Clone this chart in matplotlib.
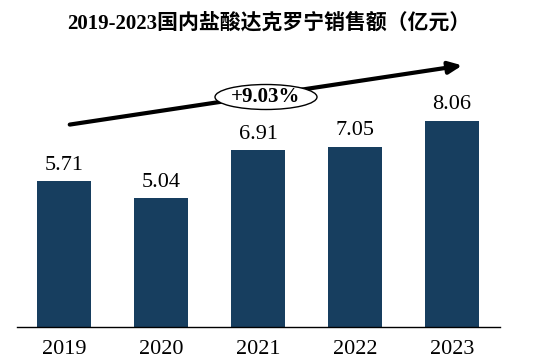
import matplotlib
matplotlib.use("Agg")
import matplotlib.pyplot as plt
from matplotlib.patches import Ellipse, FancyArrowPatch

years = ["2019", "2020", "2021", "2022", "2023"]
sales = [5.71, 5.04, 6.91, 7.05, 8.06]
cagr_label = "+9.03%"
title = "2019-2023国内盐酸达克罗宁销售额（亿元）"

W, H = 538, 361
fig = plt.figure(figsize=(W / 100, H / 100), dpi=100)
ax = fig.add_axes([17 / W, 1 - 327 / H, (500 - 17) / W, (327 - 20) / H])

serif = ["Liberation Serif", "Noto Sans CJK SC"]
color = "#173E5F"
x = range(len(years))
bars = ax.bar(x, sales, width=0.555, color=color)
for xi, v in zip(x, sales):
    ax.text(xi, v + 0.25, f"{v:.2f}", ha="center", va="bottom",
            fontsize=16, family=serif)

ax.set_xlim(-0.485, 4.495)
ax.set_ylim(0, 12)
ax.set_xticks(list(x))
ax.set_xticklabels(years, fontsize=16, family=serif)
ax.tick_params(axis="x", length=0, pad=9)
ax.set_yticks([])
for s in ["top", "left", "right"]:
    ax.spines[s].set_visible(False)
ax.spines["bottom"].set_linewidth(1.0)

# title
fig.text(269 / W, 1 - 23 / H, title, ha="center", va="center",
         fontsize=15, fontweight="bold", family=serif)

# trend arrow
arrow = FancyArrowPatch((67 / W, 1 - 125 / H), (465 / W, 1 - 65 / H),
                        transform=fig.transFigure,
                        arrowstyle="-|>,head_length=4,head_width=1.8",
                        lw=3, color="black", mutation_scale=2)
fig.add_artist(arrow)

ell = Ellipse((266 / W, 1 - 97 / H), 102 / W, 25 / H, transform=fig.transFigure,
              facecolor="white", edgecolor="black", lw=1.0, zorder=5)
fig.add_artist(ell)
fig.text(266 / W, 1 - 97 / H, cagr_label, ha="center", va="center",
         fontsize=15, fontweight="bold", family="Liberation Serif", zorder=6)

fig.savefig("out.png", dpi=100)
